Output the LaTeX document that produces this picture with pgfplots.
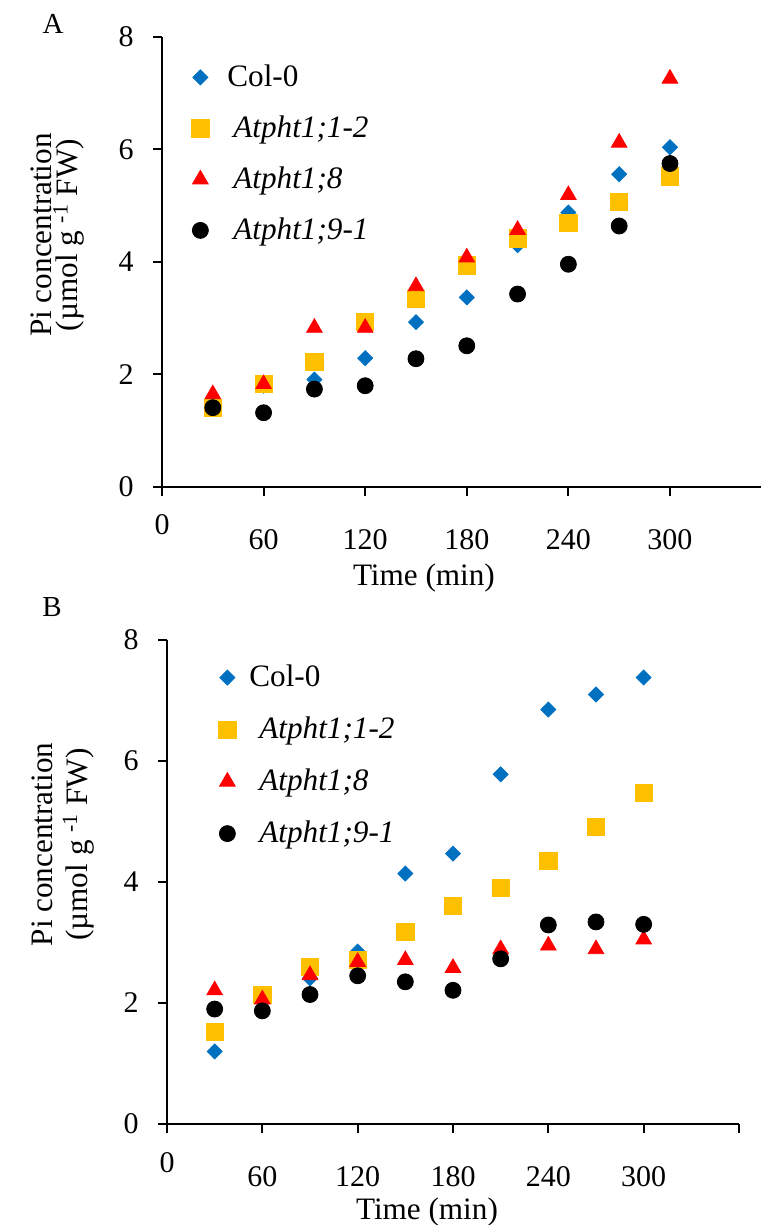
\documentclass[border=0pt]{standalone}
\usepackage{fontspec}
\setmainfont{Liberation Serif}
\usepackage{pgfplots}
\pgfplotsset{compat=1.18}
\definecolor{colblue}{HTML}{0070C0}
\definecolor{colgold}{HTML}{FFC000}
\definecolor{colred}{HTML}{FF0000}

\pgfplotsset{
  piaxis/.style={
    scale only axis, anchor=south west,
    axis x line=bottom, axis y line=left,
    axis line style={-, line width=1pt},
    every tick/.style={line width=1pt, black},
    tick align=outside, major tick length=4.5pt,
    ymin=0, ymax=8, ytick={0,2,4,6,8}, xmin=0,
    xtick={0,60,120,180,240,300,360},
    /pgf/number format/assume math mode=true,
    tick label style={font=\fontsize{15pt}{18pt}\selectfont, inner sep=0pt},
    yticklabel style={anchor=east, xshift=-9.5pt},
    xticklabel style={anchor=north},
    clip=false,
    legend style={draw=none, fill=none, inner sep=0pt, anchor=north west,
      font=\fontsize{15.6pt}{18pt}\selectfont,
      nodes={inner sep=0pt, text height=11pt, text depth=4pt},
      cells={anchor=base west}},
    legend image code/.code={
      \path[draw=none, fill=none] (0pt,0pt) (14pt,0pt);
      \draw[##1, only marks] plot coordinates {(7pt,4.5pt)};},
  },
  dia/.style={only marks, mark=square*, mark size=2.65pt, color=colblue, mark options={rotate=45}},
  squ/.style={only marks, mark=square*, mark size=4.3pt, color=colgold},
  tri/.style={only marks, mark=triangle*, mark size=4.5pt, color=colred},
  cir/.style={only marks, mark=*, mark size=4pt, color=black},
}

\begin{document}
\begin{tikzpicture}
\useasboundingbox (0,0) rectangle (381.5pt,612.5pt);

\node[font=\fontsize{14.5pt}{17pt}\selectfont] at (26.5pt,600.5pt) {A};
\node[font=\fontsize{14.5pt}{17pt}\selectfont] at (26pt,309pt) {B};

% panel A
\begin{axis}[piaxis, at={(81pt,369pt)}, width=299.7pt, height=225pt, xmax=354,
  xticklabels={\raisebox{7.5pt}[\height][\depth]{0},60,120,180,240,300,{}},
  xticklabel style={yshift=-16.5pt},
  xlabel={Time (min)},
  x label style={at={(axis description cs:0.437,0)}, anchor=north, inner sep=0pt, yshift=-38pt, font=\fontsize{15.6pt}{18pt}\selectfont},
  ylabel={Pi concentration\\(µmol g \textsuperscript{-1} FW)},
  y label style={at={(axis description cs:-0.1735,0.56)}, rotate=0, anchor=center, align=center, inner sep=0pt, font=\fontsize{15.6pt}{13pt}\selectfont},
  legend style={at={(0.04,0.94)}, column sep=6.5pt, row sep=10.5pt},
]
\addplot[dia] coordinates {(30,1.55) (60,1.80) (90,1.91) (120,2.29) (150,2.93) (180,3.37) (210,4.30) (240,4.88) (270,5.56) (300,6.04)};
\addlegendentry{Col-0}
\addplot[squ] coordinates {(30,1.40) (60,1.83) (90,2.22) (120,2.93) (150,3.34) (180,3.94) (210,4.42) (240,4.69) (270,5.07) (300,5.52)};
\addlegendentry{\hspace{3pt}\textit{Atpht1;1-2}}
\addplot[tri] coordinates {(30,1.65) (60,1.83) (90,2.83) (120,2.83) (150,3.57) (180,4.08) (210,4.57) (240,5.19) (270,6.12) (300,7.26)};
\addlegendentry{\hspace{3pt}\textit{Atpht1;8}}
\addplot[cir] coordinates {(30,1.41) (60,1.32) (90,1.74) (120,1.80) (150,2.28) (180,2.51) (210,3.43) (240,3.96) (270,4.64) (300,5.75)};
\addlegendentry{\hspace{3pt}\textit{Atpht1;9-1}}
\end{axis}

% panel B
\begin{axis}[piaxis, at={(83.5pt,50.5pt)}, width=286pt, height=242pt, xmax=360,
  xticklabels={\raisebox{7pt}[\height][\depth]{0},60,120,180,240,300,{}},
  xticklabel style={yshift=-16.5pt},
  xlabel={Time (min)},
  x label style={at={(axis description cs:0.4545,0)}, anchor=north, inner sep=0pt, yshift=-36.5pt, font=\fontsize{15.6pt}{18pt}\selectfont},
  ylabel={Pi concentration\\(µmol g \textsuperscript{-1} FW)},
  y label style={at={(axis description cs:-0.1818,0.5775)}, rotate=0, anchor=center, align=center, inner sep=0pt, font=\fontsize{15.6pt}{17.5pt}\selectfont},
  legend style={at={(0.0804,0.950)}, column sep=4pt, row sep=11pt},
]
\addplot[dia] coordinates {(30,1.20) (60,2.10) (90,2.41) (120,2.85) (150,4.14) (180,4.47) (210,5.78) (240,6.85) (270,7.10) (300,7.38)};
\addlegendentry{Col-0}
\addplot[squ] coordinates {(30,1.52) (60,2.14) (90,2.60) (120,2.71) (150,3.17) (180,3.60) (210,3.90) (240,4.35) (270,4.91) (300,5.47)};
\addlegendentry{\hspace{5pt}\textit{Atpht1;1-2}}
\addplot[tri] coordinates {(30,2.21) (60,2.06) (90,2.46) (120,2.68) (150,2.71) (180,2.58) (210,2.89) (240,2.95) (270,2.89) (300,3.05)};
\addlegendentry{\hspace{5pt}\textit{Atpht1;8}}
\addplot[cir] coordinates {(30,1.90) (60,1.87) (90,2.14) (120,2.45) (150,2.35) (180,2.21) (210,2.73) (240,3.29) (270,3.34) (300,3.30)};
\addlegendentry{\hspace{5pt}\textit{Atpht1;9-1}}
\end{axis}
\end{tikzpicture}
\end{document}
